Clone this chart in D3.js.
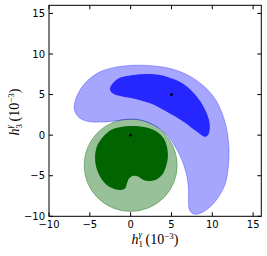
<!DOCTYPE html>
<html><head><meta charset="utf-8">
<script src="https://cdn.jsdelivr.net/npm/d3@7"></script>
<style>body{margin:0;background:#fff}svg{display:block}</style>
</head><body>
<svg id="c" width="267" height="256"></svg>
<script>
// ---- data (units of 10^-3) ----
const ticks = [-10, -5, 0, 5, 10, 15];
const blueOuter = [[-6.9,3.7],[-6.45,5.1],[-5.4,6.6],[-3.74,7.8],[-1.69,8.4],[1.17,8.62],[4.44,8.3],[6.9,7.45],[8.94,6.05],[10.5,4.2],[11.6,1.45],[12.0,-1.0],[12.0,-3.47],[11.6,-5.94],[10.77,-7.59],[9.75,-8.82],[8.53,-9.63],[7.71,-9.72],[7.21,-9.22],[7.09,-7.99],[7.09,-6.76],[6.9,-5.12],[6.28,-3.07],[5.46,-1.43],[4.64,-0.2],[3.5,0.85],[2.4,1.45],[1.2,1.85],[0,1.95],[-1.2,1.85],[-2.72,1.65],[-3.74,1.61],[-4.97,1.65],[-6.2,2.07],[-6.81,2.88]];
const blueInner = [[-2.52,5.76],[-1.69,6.87],[0.34,7.40],[2.39,7.52],[4.44,7.19],[6.48,6.29],[8.12,4.73],[9.14,3.09],[9.67,1.45],[9.55,0.14],[9.14,-0.2],[8.12,0.42],[6.48,1.65],[4.44,2.88],[2.39,3.92],[0.34,4.53],[-1.29,4.82],[-2.31,5.23]];
const greenCircle = {cx: 0, cy: -3.7, r: 5.7};
const greenInner = [[-1.90,0.84],[-0.06,1.12],[1.78,0.96],[3.21,0.42],[4.03,-0.39],[4.44,-1.43],[4.56,-2.66],[4.32,-3.89],[3.83,-4.91],[3.01,-5.53],[2.19,-5.65],[1.57,-5.53],[0.96,-5.12],[0.34,-5.0],[-0.18,-5.32],[-0.47,-6.02],[-0.67,-6.55],[-1.17,-6.76],[-1.90,-6.67],[-2.92,-6.15],[-3.74,-5.12],[-4.23,-3.89],[-4.36,-2.66],[-4.15,-1.43],[-3.53,-0.39],[-2.72,0.42]];
const bestFit = [[5,5],[0,0]];

const L = 49, T = 5.3, R = 261.3, B = 216.3;
const x = d3.scaleLinear().domain([-10,16]).range([L,R]);
const y = d3.scaleLinear().domain([-10,16]).range([B,T]);
const svg = d3.select("#c");
const line = d3.line().x(d=>x(d[0])).y(d=>y(d[1])).curve(d3.curveCatmullRomClosed.alpha(0.5));

svg.append("defs").append("clipPath").attr("id","pc")
  .append("rect").attr("x",L).attr("y",T).attr("width",R-L).attr("height",B-T);
const g = svg.append("g").attr("clip-path","url(#pc)");

// green contours
g.append("ellipse")
  .attr("cx", x(greenCircle.cx)).attr("cy", y(greenCircle.cy))
  .attr("rx", x(greenCircle.r)-x(0)).attr("ry", y(0)-y(greenCircle.r))
  .attr("fill","rgb(0,100,0)").attr("fill-opacity",0.4)
  .attr("stroke","rgb(0,100,0)").attr("stroke-opacity",0.35).attr("stroke-width",1);
g.append("path").attr("d", line(greenInner)).attr("fill","rgb(0,100,0)");

// blue contours
g.append("path").attr("d", line(blueOuter))
  .attr("fill","rgb(0,0,255)").attr("fill-opacity",0.35)
  .attr("stroke","rgb(0,0,255)").attr("stroke-opacity",0.3).attr("stroke-width",1);
g.append("path").attr("d", line(blueInner)).attr("fill","rgb(38,38,255)");

// best-fit points
g.selectAll("circle.bf").data(bestFit).enter().append("circle")
  .attr("cx",d=>x(d[0])).attr("cy",d=>y(d[1])).attr("r",1.4).attr("fill","#000");

// frame
svg.append("rect").attr("x",L).attr("y",T).attr("width",R-L).attr("height",B-T)
  .attr("fill","none").attr("stroke","#000").attr("stroke-width",1);

// ticks (inward, all sides)
const tk = 4;
ticks.forEach(t=>{
  const px = x(t), py = y(t);
  svg.append("line").attr("x1",px).attr("x2",px).attr("y1",B).attr("y2",B-tk).attr("stroke","#000");
  svg.append("line").attr("x1",px).attr("x2",px).attr("y1",T).attr("y2",T+tk).attr("stroke","#000");
  svg.append("line").attr("y1",py).attr("y2",py).attr("x1",L).attr("x2",L+tk).attr("stroke","#000");
  svg.append("line").attr("y1",py).attr("y2",py).attr("x1",R).attr("x2",R-tk).attr("stroke","#000");
});
const fmt = t => (t<0 ? "\u2212"+Math.abs(t) : String(t));
svg.selectAll("text.xt").data(ticks).enter().append("text")
  .attr("x",d=>x(d)).attr("y",228).attr("text-anchor","middle")
  .attr("font-family","DejaVu Sans").attr("font-size",10).text(fmt);
svg.selectAll("text.yt").data(ticks).enter().append("text")
  .attr("x",45).attr("y",d=>y(d)+3.6).attr("text-anchor","end")
  .attr("font-family","DejaVu Sans").attr("font-size",10).text(fmt);

// axis labels: h_i^gamma (10^-3)
function label(sel, sub){
  sel.attr("font-family","Liberation Serif").attr("font-size",14).attr("text-anchor","middle");
  sel.append("tspan").attr("font-style","italic").text("h");
  sel.append("tspan").attr("font-size",9).attr("dy",3).text(sub);
  sel.append("tspan").attr("font-size",9).attr("font-style","italic").attr("dx",-4.5).attr("dy",-10).text("γ");
  sel.append("tspan").attr("dy",7).text(" (10");
  sel.append("tspan").attr("font-size",9).attr("dy",-5).text("−3");
  sel.append("tspan").attr("dy",5).text(")");
}
label(svg.append("text").attr("x",155).attr("y",244), "1");
label(svg.append("text").attr("transform","translate(19,112) rotate(-90)"), "3");
</script>
</body></html>
